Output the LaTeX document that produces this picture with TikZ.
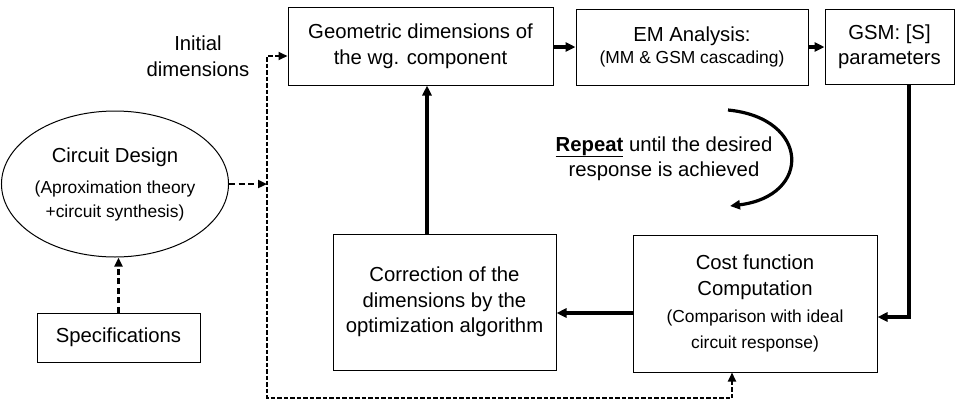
\documentclass[tikz,border=0pt]{standalone}
\usepackage{fontspec}
\setmainfont{Liberation Sans}
\usetikzlibrary{arrows.meta,shapes.geometric}
\newcommand\bigtxt{\fontsize{20.3}{25.5}\selectfont}
\newcommand\smalltxt{\fontsize{17.4}{21}\selectfont}
\tikzset{
  blk/.style={draw=black, line width=1pt, rectangle, inner sep=0pt, align=center, font=\bigtxt},
  flow/.style={line width=3.2pt, -{Triangle[length=10pt,width=9pt]}},
  dflow/.style={line width=2.3pt, dash pattern=on 6pt off 3.5pt, -{Triangle[length=9pt,width=8pt]}},
  dloop/.style={line width=2pt, dash pattern=on 4.5pt off 2pt,
    {Triangle[length=9pt,width=8pt]}-{Triangle[length=9pt,width=8pt]}},
}
\begin{document}
\begin{tikzpicture}[x=1pt,y=-1pt]
\useasboundingbox (0,0) rectangle (956,402);

% blocks of the loop
\node[blk, minimum width=265pt, minimum height=78pt] (geo) at (420.5,46)
  {Geometric dimensions of\\the wg. component};
\node[blk, minimum width=232pt, minimum height=76pt] (em) at (692,47)
  {EM Analysis:\\[-3pt]{\smalltxt (MM \& GSM cascading)}};
\node[blk, minimum width=129pt, minimum height=75pt] (gsm) at (889.5,46.5)
  {GSM: [S]\\parameters};
\node[blk, minimum width=244pt, minimum height=137pt] (cost) at (755,303.5)
  {Cost function\\Computation\\[2pt]{\smalltxt (Comparison with ideal}\\{\smalltxt circuit response)}};
\node[blk, minimum width=223pt, minimum height=136pt] (corr) at (444.5,302)
  {Correction of the\\dimensions by the\\optimization algorithm};
\node[blk, minimum width=163pt, minimum height=49pt] (spec) at (118.5,337.5)
  {Specifications};
\node[draw, line width=1pt, ellipse, minimum width=216pt, minimum height=146pt,
  inner sep=0pt, align=center, font=\bigtxt] (cd) at (115,184)
  {Circuit Design\\[6pt]{\smalltxt (Aproximation theory}\\[-2pt]{\smalltxt +circuit synthesis)}};

% free labels
\node[align=center, font=\bigtxt] (init) at (198,56) {Initial\\dimensions};
\node[align=center, font=\bigtxt] (rep) at (664,158.5)
  {\underline{\textbf{Repeat}} until the desired\\response is achieved};

% solid flow
\draw[flow] (em.west -| geo.east) -- (em.west);
\draw[flow] (em.east) -- (em.east -| gsm.west);
\coordinate (gsmturn) at (909,317);
\draw[flow] (gsmturn |- gsm.south) -- (gsmturn) -- (gsmturn -| cost.east);
\draw[flow] ([yshift=-9.5pt]cost.west) -- ([yshift=-9.5pt]cost.west -| corr.east);
\draw[flow] ([xshift=-17.5pt]corr.north) -- ([xshift=-17.5pt]corr.north |- geo.south);

% dashed flow
\coordinate (join) at (267,184);
\coordinate (tl) at (267,56);
\coordinate (bl) at (267,398);
\draw[dflow] (cd.east) -- (join);
\draw[dloop] (tl -| geo.west) -- (tl) -- (bl) -| ([xshift=-23pt]cost.south);
\draw[dflow] (spec.north) -- (spec.north |- cd.south);

% repeat arrow
\coordinate (rpA) at (728,110);
\coordinate (rpB) at (730,206);
\draw[line width=3.2pt, -{Triangle[length=10pt,width=9pt]}]
  (rpA) .. controls (810,118) and (812,196) .. (rpB);
\end{tikzpicture}
\end{document}
